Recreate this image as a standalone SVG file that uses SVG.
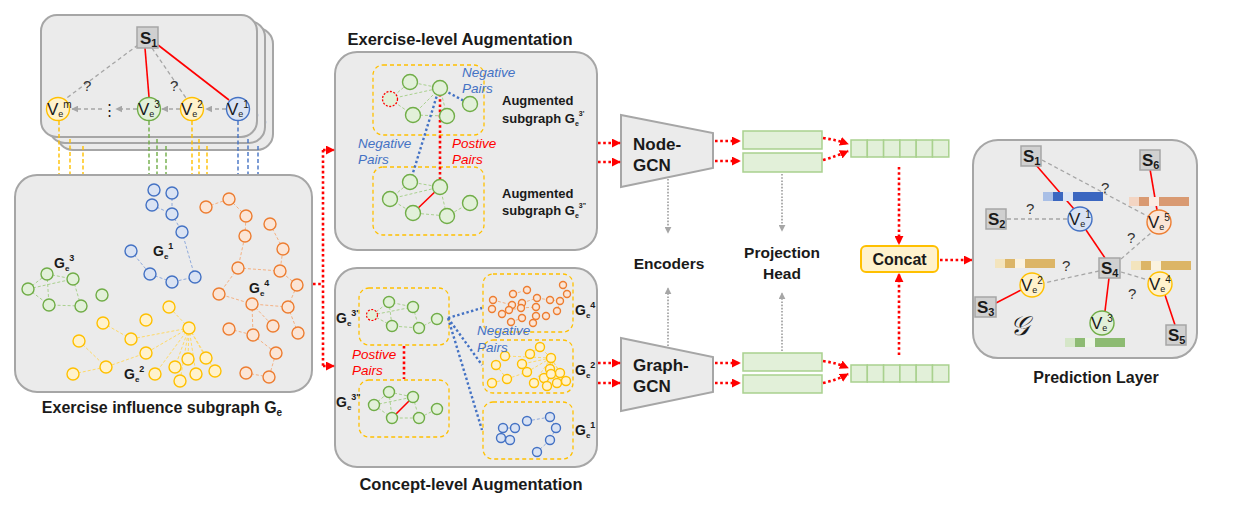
<svg xmlns="http://www.w3.org/2000/svg" width="1239" height="508" viewBox="0 0 1239 508">
<defs>
<style>
.box{fill:#ebebeb;stroke:#a6a6a6;stroke-width:2}
.ibox{fill:none;stroke:#ffc000;stroke-width:1.3;stroke-dasharray:4 3}
.gn{fill:#e2f0d9;stroke:#70ad47;stroke-width:1.4}
.yn{fill:#fff2cc;stroke:#ffc000;stroke-width:1.4}
.bn{fill:#dae3f3;stroke:#4472c4;stroke-width:1.4}
.on{fill:#fbe5d6;stroke:#ed7d31;stroke-width:1.4}
.sq{fill:#d0d0d0;stroke:#a6a6a6;stroke-width:1.5}
.ge{stroke:#a9d18e;stroke-width:1;stroke-dasharray:3 2;fill:none}
.ye{stroke:#ffd966;stroke-width:1;stroke-dasharray:3 2;fill:none}
.be{stroke:#8faadc;stroke-width:1;stroke-dasharray:3 2;fill:none}
.oe{stroke:#f4b183;stroke-width:1;stroke-dasharray:3 2;fill:none}
.gd{stroke:#a6a6a6;stroke-width:1.3;stroke-dasharray:4 3;fill:none}
.rl{stroke:#ff0000;stroke-width:1.6;fill:none}
.rd{stroke:#ff0000;stroke-width:2.6;stroke-dasharray:2.6 2.6;fill:none}
.bd{stroke:#4472c4;stroke-width:2.4;stroke-dasharray:2.4 2.4;fill:none}
.gy{stroke:#a6a6a6;stroke-width:1.8;stroke-dasharray:1.6 1.6;fill:none}
.vy{stroke:#ffc000;stroke-width:1.4;stroke-dasharray:4 2.5}
.vg{stroke:#70ad47;stroke-width:1.4;stroke-dasharray:4 2.5}
.vb{stroke:#4472c4;stroke-width:1.4;stroke-dasharray:4 2.5}
.pb{fill:#e2f0d9;stroke:#a9d18e;stroke-width:1.5}
text{font-family:"Liberation Sans",Arial,sans-serif;fill:#1a1a1a}
.t{font-size:16.5px;font-weight:bold}
.t2{font-size:16px;font-weight:bold}
.lb{font-size:15.5px;font-weight:bold}
.al{font-size:13px;font-weight:bold}
.v{font-size:17px}
.ve{font-size:9px}
.vs{font-size:10px}
.q{font-size:15px;fill:#333}
.neg{font-size:13.5px;font-style:italic;fill:#4472c4}
.pos{font-size:13.5px;font-style:italic;fill:#ff0000}
.g{font-size:14px;font-weight:bold}
.s{font-size:17px;font-weight:bold}
</style>
<marker id="ra" viewBox="0 0 10 10" refX="9" refY="5" markerWidth="9" markerHeight="9" markerUnits="userSpaceOnUse" orient="auto"><path d="M0,0 L10,5 L0,10 z" fill="#ff0000"/></marker>
<marker id="ga" viewBox="0 0 10 10" refX="9" refY="5" markerWidth="7" markerHeight="7" markerUnits="userSpaceOnUse" orient="auto"><path d="M0,0 L10,5 L0,10 z" fill="#a6a6a6"/></marker>
</defs>
<rect width="1239" height="508" fill="#ffffff"/>

<!-- Top-left stacked student graph -->
<g id="student-stack">
<rect class="box" x="57" y="28" width="216" height="122" rx="16"/>
<circle class="bn" cx="254" cy="122" r="11.5"/>
<rect class="box" x="49" y="21" width="216" height="122" rx="16"/>
<circle class="bn" cx="246" cy="115" r="11.5"/>
<rect class="box" x="41" y="15" width="216" height="122" rx="16"/>
</g>

<!-- Vertical dashed links from nodes to influence subgraph -->
<g id="links-down">
<line class="vy" x1="59" y1="121" x2="59" y2="175"/>
<line class="vy" x1="70" y1="139" x2="70" y2="175"/>
<line class="vy" x1="83" y1="146" x2="83" y2="175"/>
<line class="vg" x1="149" y1="121" x2="149" y2="175"/>
<line class="vg" x1="157" y1="139" x2="157" y2="175"/>
<line class="vg" x1="166" y1="146" x2="166" y2="175"/>
<line class="vy" x1="192" y1="121" x2="192" y2="175"/>
<line class="vy" x1="199" y1="139" x2="199" y2="175"/>
<line class="vy" x1="207" y1="146" x2="207" y2="175"/>
<line class="vb" x1="238" y1="121" x2="238" y2="175"/>
<line class="vb" x1="248" y1="139" x2="248" y2="175"/>
<line class="vb" x1="258" y1="146" x2="258" y2="175"/>
</g>

<g id="student-edges">
<line class="gd" x1="138" y1="45" x2="64" y2="100"/>
<line class="rl" x1="145" y1="48" x2="149" y2="97"/>
<line class="gd" x1="152" y1="48" x2="186" y2="98"/>
<line class="rl" x1="158" y1="45" x2="229" y2="100"/>
<line class="gd" x1="226" y1="109" x2="206" y2="109" marker-end="url(#ga)"/>
<line class="gd" x1="180" y1="109" x2="162" y2="109" marker-end="url(#ga)"/>
<line class="gd" x1="137" y1="109" x2="116" y2="109" marker-end="url(#ga)"/>
<line class="gd" x1="102" y1="109" x2="72" y2="109" marker-end="url(#ga)"/>
<text class="q" x="83" y="91">?</text>
<text class="q" x="170" y="91">?</text>
<text x="109" y="115" font-size="15" text-anchor="middle" fill="#555">⋮</text>
</g>
<g id="s1-top"><rect class="sq" x="137" y="27" width="21" height="21"/><text class="s" x="140" y="44">S<tspan font-size="11" dy="3">1</tspan></text></g>
<g id="vem-top"><circle class="yn" cx="58" cy="109" r="11.5"/><text class="v" x="47" y="115">V<tspan class="ve" dy="2">e</tspan><tspan class="vs" dy="-9">m</tspan></text></g>
<g id="ve3-top"><circle class="gn" cx="149" cy="109" r="11.5"/><text class="v" x="138" y="115">V<tspan class="ve" dy="2">e</tspan><tspan class="vs" dy="-9">3</tspan></text></g>
<g id="ve2-top"><circle class="yn" cx="192" cy="109" r="11.5"/><text class="v" x="181" y="115">V<tspan class="ve" dy="2">e</tspan><tspan class="vs" dy="-9">2</tspan></text></g>
<g id="ve1-top"><circle class="bn" cx="238" cy="109" r="11.5"/><text class="v" x="227" y="115">V<tspan class="ve" dy="2">e</tspan><tspan class="vs" dy="-9">1</tspan></text></g>

<!-- Exercise influence subgraph -->
<g id="influence-subgraph">
<rect class="box" x="15" y="175" width="297" height="217" rx="22"/>
<g>
<path class="be" d="M172,193 L172,214 M152,205 L172,214 M172,214 L182,232 L195,277 M131,251 L150,274 L172,282 L195,277"/>
<circle class="bn" cx="154" cy="190" r="6"/><circle class="bn" cx="172" cy="193" r="6"/><circle class="bn" cx="152" cy="205" r="6"/><circle class="bn" cx="172" cy="214" r="6"/><circle class="bn" cx="182" cy="232" r="6"/><circle class="bn" cx="131" cy="251" r="6"/><circle class="bn" cx="150" cy="274" r="6"/><circle class="bn" cx="172" cy="282" r="6"/><circle class="bn" cx="195" cy="277" r="6"/>
</g>
<g>
<path class="ge" d="M47,274 L73,279 M28,289 L47,274 M28,289 L73,279 M28,289 L49,305 L81,306 M47,274 L49,305 M73,279 L81,306"/>
<circle class="gn" cx="47" cy="274" r="6"/><circle class="gn" cx="73" cy="279" r="6"/><circle class="gn" cx="28" cy="289" r="6"/><circle class="gn" cx="49" cy="305" r="6"/><circle class="gn" cx="81" cy="306" r="6"/><circle class="gn" cx="102" cy="295" r="6"/>
</g>
<g>
<path class="ye" d="M189,328 L169,307 M189,328 L131,339 M189,328 L146,353 M189,328 L155,374 M189,328 L175,367 M189,328 L188,359 M189,328 L206,358 M189,328 L180,381 M189,328 L196,374 M189,328 L215,371 M103,323 L131,339 M79,341 L106,367 M73,374 L106,367 L146,353"/>
<circle class="yn" cx="189" cy="328" r="6"/><circle class="yn" cx="169" cy="307" r="6"/><circle class="yn" cx="146" cy="320" r="6"/><circle class="yn" cx="103" cy="323" r="6"/><circle class="yn" cx="131" cy="339" r="6"/><circle class="yn" cx="79" cy="341" r="6"/><circle class="yn" cx="146" cy="353" r="6"/><circle class="yn" cx="106" cy="367" r="6"/><circle class="yn" cx="73" cy="374" r="6"/><circle class="yn" cx="155" cy="374" r="6"/><circle class="yn" cx="175" cy="367" r="6"/><circle class="yn" cx="188" cy="359" r="6"/><circle class="yn" cx="206" cy="358" r="6"/><circle class="yn" cx="180" cy="381" r="6"/><circle class="yn" cx="196" cy="374" r="6"/><circle class="yn" cx="215" cy="371" r="6"/>
</g>
<g>
<path class="oe" d="M206,207 L229,199 L246,216 L245,236 L238,268 M270,224 L283,249 L280,271 M238,268 L280,271 L297,285 L288,307 M238,268 L219,294 L252,304 L288,307 M252,304 L253,335 M252,304 L273,326 M229,329 L253,335 M288,307 L298,333 M253,335 L276,353 L269,377 M246,373 L269,377"/>
<circle class="on" cx="206" cy="207" r="6"/><circle class="on" cx="229" cy="199" r="6"/><circle class="on" cx="246" cy="216" r="6"/><circle class="on" cx="245" cy="236" r="6"/><circle class="on" cx="270" cy="224" r="6"/><circle class="on" cx="283" cy="249" r="6"/><circle class="on" cx="238" cy="268" r="6"/><circle class="on" cx="280" cy="271" r="6"/><circle class="on" cx="297" cy="285" r="6"/><circle class="on" cx="219" cy="294" r="6"/><circle class="on" cx="252" cy="304" r="6"/><circle class="on" cx="288" cy="307" r="6"/><circle class="on" cx="229" cy="329" r="6"/><circle class="on" cx="253" cy="335" r="6"/><circle class="on" cx="273" cy="326" r="6"/><circle class="on" cx="298" cy="333" r="6"/><circle class="on" cx="276" cy="353" r="6"/><circle class="on" cx="246" cy="373" r="6"/><circle class="on" cx="269" cy="377" r="6"/>
</g>
<text class="g" x="153" y="256">G<tspan font-size="8" dy="3">e</tspan><tspan font-size="9" dy="-10">1</tspan></text>
<text class="g" x="54" y="268">G<tspan font-size="8" dy="3">e</tspan><tspan font-size="9" dy="-10">3</tspan></text>
<text class="g" x="249" y="293">G<tspan font-size="8" dy="3">e</tspan><tspan font-size="9" dy="-10">4</tspan></text>
<text class="g" x="124" y="379">G<tspan font-size="8" dy="3">e</tspan><tspan font-size="9" dy="-10">2</tspan></text>
<text class="t2" x="162" y="413" text-anchor="middle">Exercise influence subgraph G<tspan font-size="10" dy="3">e</tspan></text>
</g>

<!-- Exercise-level augmentation -->
<g id="exercise-aug">
<text class="t" x="460" y="45" text-anchor="middle">Exercise-level Augmentation</text>
<rect class="box" x="335" y="52" width="262" height="198" rx="22"/>
<rect class="ibox" x="373" y="65" width="111" height="70" rx="10"/>
<rect class="ibox" x="373" y="167" width="111" height="68" rx="10"/>
<path class="ge" d="M390,99 L410,82 L440,88 M390,99 L440,88 M390,99 L413,115 L447,116 M440,88 L413,115 M440,88 L447,116"/>
<path class="ge" d="M390,199 L410,182 L440,187 M390,199 L440,187 M390,199 L413,213 L447,216 M440,187 L447,216 M470,203 L447,216"/>
<line class="bd" x1="440" y1="88" x2="466" y2="102"/>
<line class="bd" x1="438" y1="92" x2="412" y2="176"/>
<line class="rd" x1="440" y1="94" x2="440" y2="180"/>
<line class="rl" x1="413" y1="213" x2="440" y2="187"/>
<circle class="gn" cx="410" cy="82" r="7.5"/><circle class="gn" cx="440" cy="88" r="7.5"/><circle cx="390" cy="99" r="7.5" fill="#e2f0d9" stroke="#ff0000" stroke-width="1.3" stroke-dasharray="2 1.5"/><circle class="gn" cx="470" cy="104" r="7.5"/><circle class="gn" cx="413" cy="115" r="7.5"/><circle class="gn" cx="447" cy="116" r="7.5"/>
<circle class="gn" cx="410" cy="182" r="7.5"/><circle class="gn" cx="440" cy="187" r="7.5"/><circle class="gn" cx="390" cy="199" r="7.5"/><circle class="gn" cx="470" cy="203" r="7.5"/><circle class="gn" cx="413" cy="213" r="7.5"/><circle class="gn" cx="447" cy="216" r="7.5"/>
<text class="neg" x="462" y="77">Negative</text><text class="neg" x="462" y="93">Pairs</text>
<text class="neg" x="358" y="148">Negative</text><text class="neg" x="358" y="164">Pairs</text>
<text class="pos" x="452" y="148">Postive</text><text class="pos" x="452" y="164">Pairs</text>
<text class="al" x="502" y="105">Augmented</text>
<text class="al" x="502" y="123">subgraph G<tspan font-size="7" dy="3">e</tspan><tspan font-size="7" dy="-10">3'</tspan></text>
<text class="al" x="502" y="198">Augmented</text>
<text class="al" x="502" y="215">subgraph G<tspan font-size="7" dy="3">e</tspan><tspan font-size="7" dy="-10">3"</tspan></text>
</g>

<!-- Concept-level augmentation -->
<g id="concept-aug">
<rect class="box" x="335" y="268" width="262" height="199" rx="22"/>
<text class="t" x="471" y="490" text-anchor="middle">Concept-level Augmentation</text>
<rect class="ibox" x="359" y="288" width="90" height="57" rx="10"/>
<rect class="ibox" x="359" y="380" width="90" height="57" rx="10"/>
<rect class="ibox" x="483" y="274" width="90" height="58" rx="10"/>
<rect class="ibox" x="483" y="340" width="90" height="53" rx="10"/>
<rect class="ibox" x="483" y="402" width="90" height="57" rx="10"/>
<path class="ge" d="M372,315 L389,302 L413,307 M372,315 L413,307 M372,315 L392,326 L419,328 L437,319 M413,307 L419,328 M389,302 L392,326"/>
<path class="ge" d="M374,405 L389,392 L413,397 M374,405 L413,397 M374,405 L392,418 L419,418 L437,409 M413,397 L419,418 M389,392 L392,418"/>
<line class="rd" x1="404" y1="346" x2="404" y2="379"/>
<line class="rl" x1="392" y1="418" x2="413" y2="397"/>
<path class="bd" d="M448,318 L482,308 M448,318 L482,365 M448,318 L482,430"/>
<circle class="gn" cx="389" cy="302" r="5.5"/><circle class="gn" cx="413" cy="307" r="5.5"/><circle cx="372" cy="315" r="5.5" fill="#e2f0d9" stroke="#ff0000" stroke-width="1.2" stroke-dasharray="2 1.5"/><circle class="gn" cx="437" cy="319" r="5.5"/><circle class="gn" cx="392" cy="326" r="5.5"/><circle class="gn" cx="419" cy="328" r="5.5"/>
<circle class="gn" cx="389" cy="392" r="5.5"/><circle class="gn" cx="413" cy="397" r="5.5"/><circle class="gn" cx="374" cy="405" r="5.5"/><circle class="gn" cx="437" cy="409" r="5.5"/><circle class="gn" cx="392" cy="418" r="5.5"/><circle class="gn" cx="419" cy="418" r="5.5"/>
<path class="oe" d="M493,300 L512,305 L522,303 L537,298 M522,303 L521,308 L509,310 M521,308 L536,307 L537,298 M537,298 L550,300 L560,301 L567,294 M560,301 L557,311 M536,307 L536,316 L546,316 M513,294 L527,290 M563,285 L567,294 M511,322 L522,318 M533,323 L536,316"/>
<g class="on">
<circle cx="513" cy="294" r="3.5"/><circle cx="527" cy="290" r="3.5"/><circle cx="563" cy="285" r="3.5"/><circle cx="493" cy="300" r="3.5"/><circle cx="512" cy="305" r="3.5"/><circle cx="522" cy="303" r="3.5"/><circle cx="537" cy="298" r="3.5"/><circle cx="550" cy="300" r="3.5"/><circle cx="560" cy="301" r="3.5"/><circle cx="567" cy="294" r="3.5"/><circle cx="492" cy="309" r="3.5"/><circle cx="502" cy="314" r="3.5"/><circle cx="509" cy="310" r="3.5"/><circle cx="521" cy="308" r="3.5"/><circle cx="536" cy="307" r="3.5"/><circle cx="557" cy="311" r="3.5"/><circle cx="522" cy="318" r="3.5"/><circle cx="536" cy="316" r="3.5"/><circle cx="546" cy="316" r="3.5"/><circle cx="511" cy="322" r="3.5"/><circle cx="533" cy="323" r="3.5"/>
</g>
<path class="ye" d="M551,358 L540,347 M551,358 L505,356 M551,358 L522,364 M551,358 L527,372 M551,358 L550,369 M551,358 L560,373 M551,358 L566,381 M551,358 L557,383 M551,358 L534,383 M551,358 L544,378 M496,365 L507,379 L492,383 M507,379 L527,372 M530,354 L540,347"/>
<g class="yn">
<circle cx="540" cy="347" r="4.5"/><circle cx="530" cy="354" r="4.5"/><circle cx="551" cy="358" r="4.5"/><circle cx="505" cy="356" r="4.5"/><circle cx="522" cy="364" r="4.5"/><circle cx="496" cy="365" r="4.5"/><circle cx="527" cy="372" r="4.5"/><circle cx="550" cy="369" r="4.5"/><circle cx="560" cy="373" r="4.5"/><circle cx="507" cy="379" r="4.5"/><circle cx="492" cy="383" r="4.5"/><circle cx="534" cy="383" r="4.5"/><circle cx="544" cy="378" r="4.5"/><circle cx="551" cy="374" r="4.5"/><circle cx="566" cy="381" r="4.5"/><circle cx="557" cy="383" r="4.5"/><circle cx="547" cy="386" r="4.5"/>
</g>
<path class="be" d="M527,421 L550,417 L556,428 L550,440 L537,452 M503,428 L515,428 M501,438 L510,440"/>
<g class="bn">
<circle cx="527" cy="421" r="4.5"/><circle cx="550" cy="417" r="4.5"/><circle cx="503" cy="428" r="4.5"/><circle cx="515" cy="428" r="4.5"/><circle cx="556" cy="428" r="4.5"/><circle cx="501" cy="438" r="4.5"/><circle cx="510" cy="440" r="4.5"/><circle cx="550" cy="440" r="4.5"/><circle cx="537" cy="452" r="4.5"/>
</g>
<text class="g" x="336" y="323">G<tspan font-size="8" dy="3">e</tspan><tspan font-size="9" dy="-10">3'</tspan></text>
<text class="g" x="336" y="407">G<tspan font-size="8" dy="3">e</tspan><tspan font-size="9" dy="-10">3"</tspan></text>
<text class="g" x="575" y="315">G<tspan font-size="8" dy="3">e</tspan><tspan font-size="9" dy="-10">4</tspan></text>
<text class="g" x="575" y="375">G<tspan font-size="8" dy="3">e</tspan><tspan font-size="9" dy="-10">2</tspan></text>
<text class="g" x="575" y="435">G<tspan font-size="8" dy="3">e</tspan><tspan font-size="9" dy="-10">1</tspan></text>
<text class="pos" x="352" y="359">Postive</text><text class="pos" x="352" y="375">Pairs</text>
<text class="neg" x="477" y="335">Negative</text><text class="neg" x="477" y="352">Pairs</text>
</g>

<!-- Encoders -->
<g id="node-gcn"><path d="M621,115 L713,133 L713,168 L621,187 Z" fill="#ebebeb" stroke="#a6a6a6" stroke-width="2"/><text x="633" y="150" font-size="17" font-weight="bold">Node-</text><text x="633" y="171" font-size="17" font-weight="bold">GCN</text></g>
<g id="graph-gcn"><path d="M621,338 L713,357 L713,392 L621,411 Z" fill="#ebebeb" stroke="#a6a6a6" stroke-width="2"/><text x="633" y="371" font-size="17" font-weight="bold">Graph-</text><text x="633" y="392" font-size="17" font-weight="bold">GCN</text></g>
<g id="proj-top"><rect class="pb" x="743" y="131" width="79" height="18"/><rect class="pb" x="743" y="153" width="79" height="19"/></g>
<g id="proj-bottom"><rect class="pb" x="743" y="353" width="79" height="18"/><rect class="pb" x="743" y="375" width="79" height="18"/></g>
<g id="vec-top"><rect class="pb" x="851" y="140" width="16.3" height="17"/><rect class="pb" x="867.3" y="140" width="16.3" height="17"/><rect class="pb" x="883.6" y="140" width="16.3" height="17"/><rect class="pb" x="899.9" y="140" width="16.3" height="17"/><rect class="pb" x="916.2" y="140" width="16.3" height="17"/><rect class="pb" x="932.5" y="140" width="16.3" height="17"/></g>
<g id="vec-bottom"><rect class="pb" x="851" y="365" width="16.3" height="17"/><rect class="pb" x="867.3" y="365" width="16.3" height="17"/><rect class="pb" x="883.6" y="365" width="16.3" height="17"/><rect class="pb" x="899.9" y="365" width="16.3" height="17"/><rect class="pb" x="916.2" y="365" width="16.3" height="17"/><rect class="pb" x="932.5" y="365" width="16.3" height="17"/></g>
<g id="labels-mid">
<text class="lb" x="669" y="269" text-anchor="middle">Encoders</text>
<text class="lb" x="782" y="258" text-anchor="middle" font-size="16.5">Projection</text>
<text class="lb" x="782" y="279" text-anchor="middle" font-size="16.5">Head</text>
</g>
<g id="concat"><rect x="861" y="246" width="77" height="26" rx="5" fill="#fff2cc" stroke="#ffc000" stroke-width="2"/><text x="899.5" y="265" font-size="16" font-weight="bold" text-anchor="middle">Concat</text></g>

<!-- Connectors -->
<g id="connectors">
<path class="rd" d="M313,284 L323,284 M323,150 L323,366"/>
<line class="rd" x1="323" y1="150" x2="334" y2="150" marker-end="url(#ra)"/>
<line class="rd" x1="323" y1="366" x2="334" y2="366" marker-end="url(#ra)"/>
<line class="rd" x1="598" y1="143" x2="620" y2="143" marker-end="url(#ra)"/>
<line class="rd" x1="598" y1="162" x2="620" y2="162" marker-end="url(#ra)"/>
<line class="rd" x1="715" y1="141" x2="740" y2="141" marker-end="url(#ra)"/>
<line class="rd" x1="715" y1="161" x2="740" y2="161" marker-end="url(#ra)"/>
<path class="rd" d="M823,138 Q837,140 848,144" marker-end="url(#ra)"/>
<path class="rd" d="M823,160 Q837,156 848,151" marker-end="url(#ra)"/>
<line class="rd" x1="598" y1="363" x2="620" y2="363" marker-end="url(#ra)"/>
<line class="rd" x1="598" y1="383" x2="620" y2="383" marker-end="url(#ra)"/>
<line class="rd" x1="715" y1="363" x2="740" y2="363" marker-end="url(#ra)"/>
<line class="rd" x1="715" y1="383" x2="740" y2="383" marker-end="url(#ra)"/>
<path class="rd" d="M823,361 Q837,363 848,368" marker-end="url(#ra)"/>
<path class="rd" d="M823,383 Q837,380 848,374" marker-end="url(#ra)"/>
<line class="rd" x1="899" y1="167" x2="899" y2="244" marker-end="url(#ra)"/>
<line class="rd" x1="899" y1="355" x2="899" y2="274" marker-end="url(#ra)"/>
<line class="rd" x1="940" y1="260" x2="972" y2="260" marker-end="url(#ra)"/>
<line class="gy" x1="668" y1="179" x2="668" y2="233" marker-end="url(#ga)"/>
<line class="gy" x1="782" y1="174" x2="782" y2="231" marker-end="url(#ga)"/>
<line class="gy" x1="668" y1="346" x2="668" y2="288" marker-end="url(#ga)"/>
<line class="gy" x1="782" y1="351" x2="782" y2="293" marker-end="url(#ga)"/>
</g>

<!-- Prediction layer -->
<g id="prediction-layer">
<rect class="box" x="973" y="140" width="224" height="218" rx="25"/>
<text class="t2" x="1096" y="383" text-anchor="middle">Prediction Layer</text>
<g id="pred-edges">
<line class="gd" x1="1042" y1="160" x2="1149" y2="217"/>
<line class="gd" x1="1007" y1="219" x2="1068" y2="219"/>
<line class="gd" x1="1121" y1="259" x2="1152" y2="232"/>
<line class="gd" x1="1099" y1="271" x2="1044" y2="283"/>
<line class="gd" x1="1121" y1="272" x2="1148" y2="280"/>
<line class="rl" x1="1036" y1="165" x2="1074" y2="209"/>
<line class="rl" x1="1086" y1="230" x2="1105" y2="258"/>
<line class="rl" x1="1150" y1="169" x2="1157" y2="210"/>
<line class="rl" x1="996" y1="303" x2="1021" y2="290"/>
<line class="rl" x1="1109" y1="278" x2="1105" y2="311"/>
<line class="rl" x1="1165" y1="295" x2="1175" y2="325"/>
<text class="q" x="1101" y="193">?</text>
<text class="q" x="1026" y="214">?</text>
<text class="q" x="1127" y="243">?</text>
<text class="q" x="1062" y="271">?</text>
<text class="q" x="1128" y="299">?</text>
</g>
<g id="strip-blue"><rect x="1043" y="192" width="10" height="9" fill="#a9bfe6"/><rect x="1053" y="192" width="10" height="9" fill="#3a66c0"/><rect x="1063" y="192" width="10" height="9" fill="#dce5f4"/><rect x="1073" y="192" width="10" height="9" fill="#3a66c0"/><rect x="1083" y="192" width="10" height="9" fill="#3a66c0"/><rect x="1093" y="192" width="10" height="9" fill="#3a66c0"/></g>
<g id="strip-orange"><rect x="1129" y="197" width="10" height="9" fill="#f3d5c3"/><rect x="1139" y="197" width="10" height="9" fill="#d99a72"/><rect x="1149" y="197" width="10" height="9" fill="#fbece3"/><rect x="1159" y="197" width="10" height="9" fill="#d99a72"/><rect x="1169" y="197" width="10" height="9" fill="#d99a72"/><rect x="1179" y="197" width="10" height="9" fill="#d99a72"/></g>
<g id="strip-yellow-l"><rect x="995" y="259" width="10" height="9" fill="#f3e4bd"/><rect x="1005" y="259" width="10" height="9" fill="#dcb566"/><rect x="1015" y="259" width="10" height="9" fill="#faf2df"/><rect x="1025" y="259" width="10" height="9" fill="#dcb566"/><rect x="1035" y="259" width="10" height="9" fill="#dcb566"/><rect x="1045" y="259" width="10" height="9" fill="#dcb566"/></g>
<g id="strip-yellow-r"><rect x="1131" y="261" width="10" height="9" fill="#f3e4bd"/><rect x="1141" y="261" width="10" height="9" fill="#dcb566"/><rect x="1151" y="261" width="10" height="9" fill="#faf2df"/><rect x="1161" y="261" width="10" height="9" fill="#dcb566"/><rect x="1171" y="261" width="10" height="9" fill="#dcb566"/><rect x="1181" y="261" width="10" height="9" fill="#dcb566"/></g>
<g id="strip-green"><rect x="1065" y="338" width="10" height="9" fill="#d5e6c8"/><rect x="1075" y="338" width="10" height="9" fill="#8dbb72"/><rect x="1085" y="338" width="10" height="9" fill="#edf5e7"/><rect x="1095" y="338" width="10" height="9" fill="#8dbb72"/><rect x="1105" y="338" width="10" height="9" fill="#8dbb72"/><rect x="1115" y="338" width="10" height="9" fill="#8dbb72"/></g>
<g id="p-s1"><rect class="sq" x="1021" y="146" width="20" height="20"/><text class="s" x="1023" y="162">S<tspan font-size="11" dy="3">1</tspan></text></g>
<g id="p-s6"><rect class="sq" x="1140" y="150" width="20" height="20"/><text class="s" x="1142" y="166">S<tspan font-size="11" dy="3">6</tspan></text></g>
<g id="p-s2"><rect class="sq" x="986" y="209" width="20" height="20"/><text class="s" x="988" y="225">S<tspan font-size="11" dy="3">2</tspan></text></g>
<g id="p-s4"><rect class="sq" x="1099" y="258" width="21" height="20"/><text class="s" x="1101" y="274">S<tspan font-size="11" dy="3">4</tspan></text></g>
<g id="p-s3"><rect class="sq" x="975" y="297" width="21" height="20"/><text class="s" x="977" y="313">S<tspan font-size="11" dy="3">3</tspan></text></g>
<g id="p-s5"><rect class="sq" x="1166" y="325" width="20" height="20"/><text class="s" x="1168" y="341">S<tspan font-size="11" dy="3">5</tspan></text></g>
<g id="p-ve1"><circle class="bn" cx="1080" cy="219" r="12"/><text class="v" x="1069" y="225">V<tspan class="ve" dy="2">e</tspan><tspan class="vs" dy="-9">1</tspan></text></g>
<g id="p-ve5"><circle class="on" cx="1159" cy="222" r="12"/><text class="v" x="1148" y="228">V<tspan class="ve" dy="2">e</tspan><tspan class="vs" dy="-9">5</tspan></text></g>
<g id="p-ve2"><circle class="yn" cx="1032" cy="285" r="12"/><text class="v" x="1021" y="291">V<tspan class="ve" dy="2">e</tspan><tspan class="vs" dy="-9">2</tspan></text></g>
<g id="p-ve4"><circle class="yn" cx="1160" cy="284" r="12"/><text class="v" x="1149" y="290">V<tspan class="ve" dy="2">e</tspan><tspan class="vs" dy="-9">4</tspan></text></g>
<g id="p-ve3"><circle class="gn" cx="1102" cy="323" r="12"/><text class="v" x="1091" y="329">V<tspan class="ve" dy="2">e</tspan><tspan class="vs" dy="-9">3</tspan></text></g>
<text x="1010" y="335" font-size="27" font-style="italic" style="font-family:'DejaVu Serif','Liberation Serif',serif">𝒢</text>
</g>
</svg>
